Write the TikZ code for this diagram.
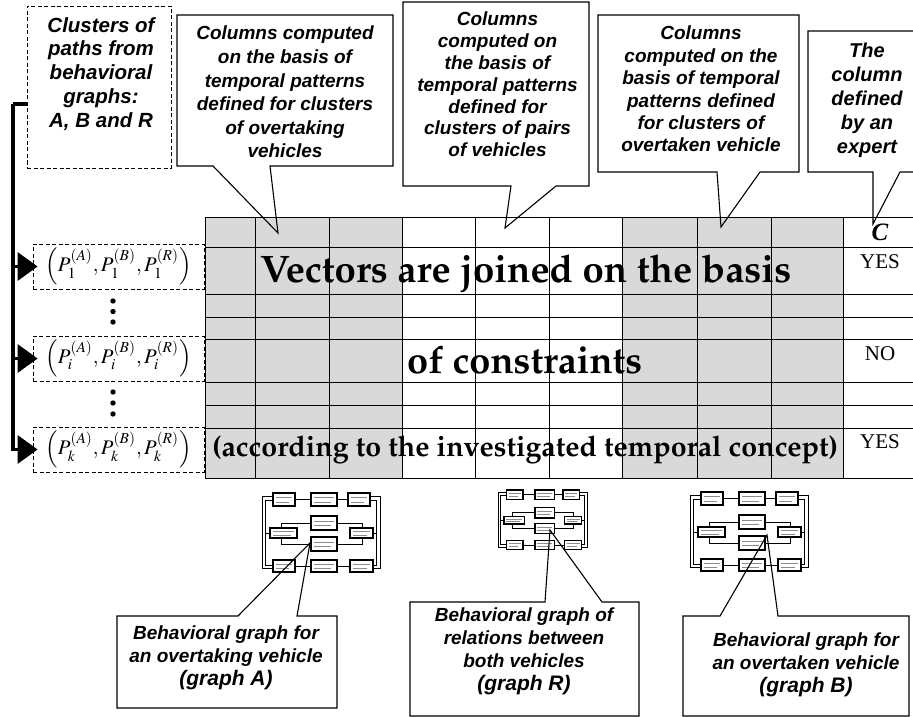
\documentclass[tikz,border=0pt]{standalone}
\usepackage[T1]{fontenc}
\usepackage{mathptmx}
\usepackage{fontspec}
\setmainfont{Liberation Serif}
\newfontfamily\calfont{Liberation Sans}
\usetikzlibrary{arrows.meta}
% bold Palatino for the large table captions
\newcommand\palb{\fontencoding{T1}\fontfamily{ppl}\fontseries{b}\fontshape{n}\selectfont}
% bold italic sans for the callouts
\newcommand\callfont[2]{\calfont\bfseries\itshape\fontsize{#1}{#2}\selectfont}

\tikzset{
  grid/.style={line width=0.8pt},
  callout/.style={draw, line width=1.1pt, line join=miter},
  ctext/.style={anchor=north, inner sep=0pt, align=center},
  dashbox/.style={draw, dash pattern=on 4pt off 2.5pt, line width=0.8pt},
  trunk/.style={line width=3.5pt, line join=miter},
  bigtip/.style={-{Triangle[length=20pt,width=28pt]}},
  gbox/.style={fill=white, draw, line width=1.2pt},
  gline/.style={line width=1pt},
  gtext/.style={black!45, line width=0.6pt},
  answer/.style={inner sep=0pt, anchor=base, font=\fontsize{21}{24}\selectfont},
  % miniature behavioral graph
  bgraph/.pic={
    % double frame on both sides
    \draw[gline] (11,3.5) -- (0,3.5) -- (0,75.5) -- (11,75.5);
    \draw[gline] (11,7) -- (3.5,7) -- (3.5,72) -- (11,72);
    \draw[gline] (108,3.5) -- (118,3.5) -- (118,75.5) -- (108,75.5);
    \draw[gline] (108,7) -- (114.5,7) -- (114.5,72) -- (108,72);
    % links between states
    \draw[gline] (33,6.5) -- (49,6.5) (75,6.5) -- (86,6.5);
    \draw[gline] (33,73.5) -- (49,73.5) (75,73.5) -- (88,73.5);
    \draw[gline] (19,35) |- (49,30) (75,30) -| (100,35)
                 (19,45) |- (49,51) (75,51) -| (100,45);
    \draw[gline] (8,40) -- (3.5,40) (111,40) -- (114.5,40);
    % states
    \foreach \a/\b/\c/\d in {11/0/33/13, 49/0/75/13, 86/0/108/13,
                             8/35/35/45, 88/35/111/45, 49/23/75/37, 49/44/75/58,
                             11/67/33/79, 49/67/75/79, 88/67/111/79}{
      \draw[gbox] (\a,\b) rectangle (\c,\d);
      \draw[gtext] ({\a+3},{\b+0.35*(\d-\b)}) -- ({\c-3},{\b+0.35*(\d-\b)});
      \draw[gtext] ({\a+3},{\b+0.68*(\d-\b)}) -- ({\c-6},{\b+0.68*(\d-\b)});
    }
  },
}

\begin{document}
\begin{tikzpicture}[x=1pt,y=-1pt]
\useasboundingbox (0,0) rectangle (913,717);
\clip (0,0) rectangle (913,717);

% ---------- table ----------
\fill[black!15] (205,217) rectangle (402,478);
\fill[black!15] (622,217) rectangle (843,478);
\foreach \x in {205,255,329,402,475,549,622,697,771,843}
  \draw[grid] (\x,217) -- (\x,478);
\foreach \y in {217,247,294,317,339,382,405,428,478}
  \draw[grid] (205,\y) -- (913,\y);

\node[anchor=base west, inner sep=0pt] (vec) at (260,282)
  {\resizebox{531pt}{!}{\palb Vectors are joined on the basis}};
\node[anchor=base west, inner sep=0pt] (cons) at (407,373)
  {\resizebox{235pt}{!}{\palb of constraints}};
\node[anchor=base west, inner sep=0pt] (conc) at (212,456)
  {\resizebox{626pt}{!}{\palb (according to the investigated temporal concept)}};

\node[inner sep=0pt, anchor=base, font=\fontsize{25}{28}\selectfont\bfseries\itshape] (colC) at (880,240) {C};
\node[answer] (ans1) at (880,268) {YES};
\node[answer] (ans2) at (880,360) {NO};
\node[answer] (ans3) at (880,448) {YES};

% ---------- clusters of paths ----------
\node[dashbox, minimum width=144pt, minimum height=162pt, inner sep=0pt] (clus) at (99,87) {};
\node[ctext, font=\callfont{20.5}{23.75}] (clustxt) at (101,17)
  {Clusters of\\paths from\\behavioral\\graphs:\\A, B and R};

\node[dashbox, minimum width=171pt, minimum height=45pt, inner sep=0pt] (P1) at (118.5,266.5)
  {\resizebox{146pt}{!}{$\left(P_1^{(A)},P_1^{(B)},P_1^{(R)}\right)$}};
\node[dashbox, minimum width=171pt, minimum height=45pt, inner sep=0pt] (Pi) at (118.5,358.5)
  {\resizebox{146pt}{!}{$\left(P_i^{(A)},P_i^{(B)},P_i^{(R)}\right)$}};
\node[dashbox, minimum width=171pt, minimum height=45pt, inner sep=0pt] (Pk) at (118.5,449.5)
  {\resizebox{146pt}{!}{$\left(P_k^{(A)},P_k^{(B)},P_k^{(R)}\right)$}};

\foreach \y in {301,311.5,322,392,403,414}
  \fill (113,\y) circle (2.7pt);

\coordinate (bend) at (13,104);
\draw[trunk] ([yshift=-17pt]clus.west) -- (bend);
\draw[trunk, bigtip] (bend) |- ([xshift=5pt]Pk.west);
\draw[trunk, bigtip] (bend) |- ([xshift=5pt]P1.west);
\draw[trunk, bigtip] (bend) |- ([xshift=5pt]Pi.west);

% ---------- callouts above the table ----------
\coordinate (tip1) at (278,233);
\draw[callout] (177,15) -- (393,15) -- (393,166) -- (270,166) -- (tip1) -- (213,166) -- (177,166) -- cycle;
\node[ctext, font=\callfont{19}{23.6}] (t1) at (285,26)
  {Columns computed\\on the basis of\\temporal patterns\\defined for clusters\\of overtaking\\vehicles};

\coordinate (tip2) at (505,228);
\draw[callout] (403,2) -- (589,2) -- (589,186) -- (556,186) -- (tip2) -- (511,186) -- (403,186) -- cycle;
\node[ctext, font=\callfont{19}{21.8}] (t2) at (497.5,12)
  {Columns\\computed on\\the basis of\\temporal patterns\\defined for\\clusters of pairs\\of vehicles};

\coordinate (tip3) at (721,227);
\draw[callout] (598,15) -- (799,15) -- (799,172) -- (760,172) -- (tip3) -- (717,172) -- (598,172) -- cycle;
\node[ctext, font=\callfont{19}{22.4}] (t3) at (701,26)
  {Columns\\computed on the\\basis of temporal\\patterns defined\\for clusters of\\overtaken vehicle};

\coordinate (tip4) at (873,224);
\draw[callout] (808,31) -- (930,31) -- (930,172) -- (900,172) -- (tip4) -- (873,172) -- (808,172) -- cycle;
\node[ctext, font=\callfont{20}{24}] (t4) at (867,42.5)
  {The\\column\\defined\\by an\\expert};

% ---------- behavioral graphs ----------
\pic at (262,493) {bgraph};
\pic[scale=0.755] at (498,490) {bgraph};
\pic at (690,492) {bgraph};

% ---------- callouts below the table ----------
\coordinate (tipA) at (310,543);
\draw[callout] (117,616) -- (238,616) -- (tipA) -- (297,616) -- (337,616) -- (337,708) -- (117,708) -- cycle;
\node[ctext, font=\callfont{19}{23}] (tA) at (226,626)
  {Behavioral graph for\\an overtaking vehicle\\{\fontsize{21}{24}\selectfont (graph A)}};

\coordinate (tipR) at (550,530);
\draw[callout] (410,602) -- (545,602) -- (tipR) -- (602,602) -- (639,602) -- (639,716) -- (410,716) -- cycle;
\node[ctext, font=\callfont{19}{23}] (tR) at (524,608)
  {Behavioral graph of\\relations between\\both vehicles\\{\fontsize{21}{24}\selectfont (graph R)}};

\coordinate (tipB) at (767,535);
\draw[callout] (683,616) -- (720,616) -- (tipB) -- (778,616) -- (909,616) -- (909,716) -- (683,716) -- cycle;
\node[ctext, font=\callfont{19}{23}] (tB) at (806,633)
  {Behavioral graph for\\an overtaken vehicle\\{\fontsize{21}{24}\selectfont (graph B)}};
\end{tikzpicture}
\end{document}
